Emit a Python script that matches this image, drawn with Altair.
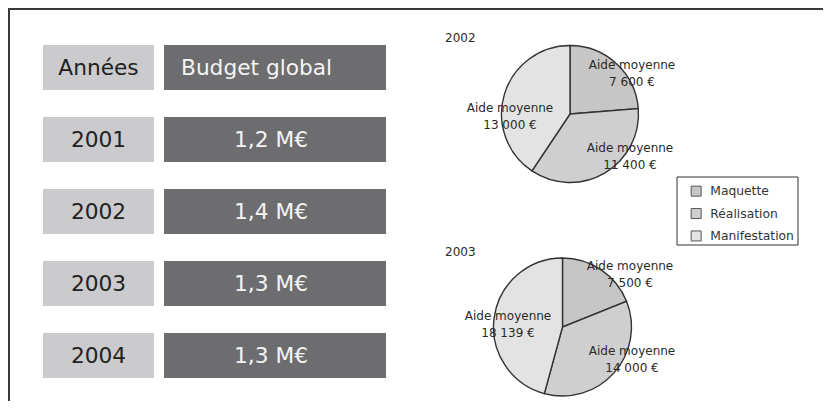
import altair as alt
import pandas as pd

# ---------------- data ----------------
header_left = "Années"
header_right = "Budget global"
years = ["2001", "2002", "2003", "2004"]
budgets = ["1,2 M€", "1,4 M€", "1,3 M€", "1,3 M€"]

categories = ["Maquette", "Réalisation", "Manifestation"]
pie_years = ["2002", "2003"]
aide_2002 = [7600, 11400, 13000]
aide_2003 = [7500, 14000, 18139]

# ---------------- styles ----------------
FONT = "DejaVu Sans"
slice_colors = ["#c6c6c6", "#cfcfcf", "#e3e3e3"]
light_box = "#cbcbcd"
dark_box = "#6d6d70"
W, H = 815, 393


def euro(v):
    return f"{v:,}".replace(",", " ") + " €"


table = pd.DataFrame({
    "row": list(range(len(years) + 1)),
    "left": [header_left] + years,
    "right": [header_right] + budgets,
})

row_y = alt.Y("row:O", axis=None,
              scale=alt.Scale(domain=list(range(len(years) + 1)), range=[37, 370],
                              paddingInner=0.375, paddingOuter=0))

base_t = alt.Chart(table)
left_rect = base_t.mark_rect(color=light_box).encode(y=row_y, x=alt.value(35), x2=alt.value(146))
right_rect = base_t.mark_rect(color=dark_box).encode(y=row_y, x=alt.value(156), x2=alt.value(378))
left_text = base_t.mark_text(font=FONT, fontSize=21.7, color="#222", align="center",
                             baseline="middle").encode(y=row_y, x=alt.value(90.5), text="left:N")
right_head = base_t.transform_filter(alt.datum.row == 0).mark_text(
    font=FONT, fontSize=21.7, color="#f4f4f4", align="left", baseline="middle").encode(
    y=row_y, x=alt.value(173), text="right:N")
right_vals = base_t.transform_filter(alt.datum.row > 0).mark_text(
    font=FONT, fontSize=21.7, color="#f4f4f4", align="center", baseline="middle").encode(
    y=row_y, x=alt.value(263), text="right:N")

one = pd.DataFrame({"a": [0]})
frame_top = alt.Chart(one).mark_rule(color="#3a3a3a", strokeWidth=2).encode(
    x=alt.value(0), x2=alt.value(W), y=alt.value(1))
frame_left = alt.Chart(one).mark_rule(color="#3a3a3a", strokeWidth=2).encode(
    x=alt.value(1), y=alt.value(0), y2=alt.value(H))

legend_box = alt.Chart(one).mark_rect(fill="white", stroke="#333", strokeWidth=1).encode(
    x=alt.value(669), x2=alt.value(790), y=alt.value(169), y2=alt.value(237))

color_enc = alt.Color(
    "cat:N",
    scale=alt.Scale(domain=categories, range=slice_colors),
    legend=alt.Legend(title=None, orient="none", legendX=682, legendY=177,
                      symbolType="square", symbolSize=100, symbolStrokeColor="#555",
                      symbolStrokeWidth=1, labelFont=FONT, labelFontSize=12.3,
                      labelColor="#333", labelOffset=8, rowPadding=7.4, padding=0),
)


def pie(year, values, cx, cy, r, label_pos, title_pos):
    df = pd.DataFrame({
        "cat": categories,
        "val": values,
        "idx": list(range(len(categories))),
        "label": ["Aide moyenne\n" + euro(v) for v in values],
        "year": year,
    })
    base = alt.Chart(df)
    arcs = base.mark_arc(outerRadius=r, stroke="#333", strokeWidth=1.4).encode(
        theta=alt.Theta("val:Q", stack=True),
        order=alt.Order("idx:Q"),
        color=color_enc,
        x=alt.value(cx), y=alt.value(cy),
    )
    layers = [arcs]
    for cat, (lx, ly) in zip(categories, label_pos):
        layers.append(
            base.transform_filter(alt.datum.cat == cat).mark_text(
                font=FONT, fontSize=12, color="#2a2a2a", align="center",
                baseline="middle", lineBreak="\n", lineHeight=16.5).encode(
                x=alt.value(lx), y=alt.value(ly), text="label:N")
        )
    layers.append(
        base.transform_filter(alt.datum.idx == 0).mark_text(
            font=FONT, fontSize=12, color="#2a2a2a", align="left", baseline="middle").encode(
            x=alt.value(title_pos[0]), y=alt.value(title_pos[1]), text="year:N")
    )
    return layers


# label positions in category order: Maquette, Réalisation, Manifestation
pie02 = pie(pie_years[0], aide_2002, 562, 106, 68.5,
            [(624, 57), (622, 140), (502, 100)], (437, 30))
pie03 = pie(pie_years[1], aide_2003, 554.5, 319, 69,
            [(622, 258), (624, 343), (500, 308)], (437, 244))

chart = alt.layer(
    frame_top, frame_left,
    left_rect, right_rect, left_text, right_head, right_vals,
    legend_box,
    *pie02, *pie03,
).resolve_scale(theta="independent").properties(
    width=W, height=H, padding=0, autosize="none"
).configure_view(strokeWidth=0)

chart.save("out.html", embed_options={"renderer": "svg", "actions": False})
